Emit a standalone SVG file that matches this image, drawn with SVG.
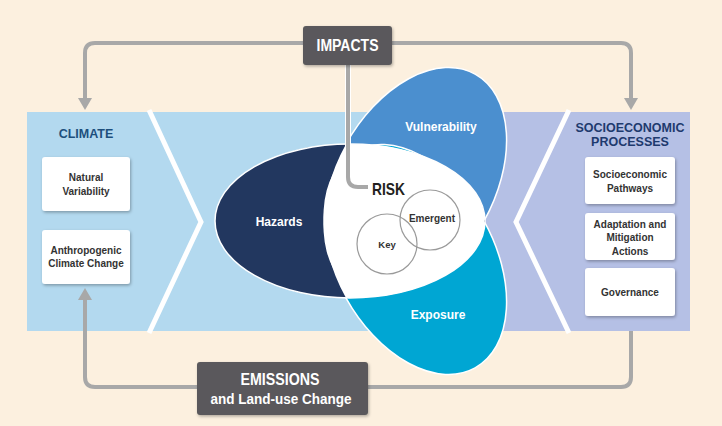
<svg xmlns="http://www.w3.org/2000/svg" width="722" height="426" viewBox="0 0 722 426">
<style>
.t{font-family:"Liberation Sans",Arial,sans-serif;font-weight:bold;text-anchor:middle}
.bx{fill:#ffffff;filter:url(#sh)}
.bt{font-size:10px;fill:#333333}
.et{font-size:12px;fill:#ffffff}
.hd{font-size:12.5px}
.dk{fill:#5a595b;filter:url(#sh)}
.ln{fill:none;stroke:#a8a8a8;stroke-width:4}
.ci{fill:none;stroke:#9a9a9a;stroke-width:1.2}
</style>
<defs>
<filter id="sh" x="-20%" y="-20%" width="140%" height="150%">
<feDropShadow dx="1" dy="1.5" stdDeviation="1.5" flood-color="#000" flood-opacity="0.3"/>
</filter>
<marker id="arr" viewBox="0 0 12 14" markerWidth="12" markerHeight="14" refX="0" refY="7" orient="auto-start-reverse" markerUnits="userSpaceOnUse">
<path d="M0,0 L12,7 L0,14 z" fill="#a8a8a8"/>
</marker>
<clipPath id="hazClip"><ellipse cx="350" cy="221" rx="135" ry="77"/></clipPath>
</defs>
<rect width="722" height="426" fill="#fcf0df"/>
<g id="band">
<rect x="27" y="112" width="458" height="219" fill="#b3d9ef"/>
<rect x="483" y="112" width="207" height="219" fill="#b5c0e5"/>
<polyline points="149,110 201,222 149,333" fill="none" stroke="#ffffff" stroke-width="5"/>
<polyline points="569,110 516,222 569,333" fill="none" stroke="#ffffff" stroke-width="5"/>
</g>
<g id="risk">
<ellipse id="vulnerability" transform="translate(415,182.5) rotate(-61)" rx="124" ry="79" fill="#4b8fcf" stroke="#ffffff" stroke-width="1.5"/>
<ellipse id="exposure" transform="translate(415,259.5) rotate(61)" rx="124" ry="79" fill="#00a6d3" stroke="#ffffff" stroke-width="1.5"/>
<ellipse id="hazards" cx="350" cy="221" rx="135" ry="77" fill="#22375f" stroke="#ffffff" stroke-width="1.5"/>
<g clip-path="url(#hazClip)">
<ellipse transform="translate(415,182.5) rotate(-61)" rx="124" ry="79" fill="#ffffff"/>
<ellipse transform="translate(415,259.5) rotate(61)" rx="124" ry="79" fill="#ffffff"/>
</g>
<circle class="ci" cx="387" cy="244" r="30"/>
<circle class="ci" cx="430" cy="220" r="30"/>
<text class="t et" x="441" y="131">Vulnerability</text>
<text class="t et" x="279" y="226">Hazards</text>
<text class="t et" x="438" y="319">Exposure</text>
<text class="t" x="432" y="222" font-size="10" fill="#333333">Emergent</text>
<text class="t" x="387" y="248" font-size="9.5" fill="#333333">Key</text>
</g>
<g id="connectors">
<path class="ln" d="M85,98 V53 Q85,43 95,43 H621 Q631,43 631,53 V98" marker-start="url(#arr)" marker-end="url(#arr)"/>
<path class="ln" d="M631,331 V377 Q631,387 621,387 H95 Q85,387 85,377 V300" marker-end="url(#arr)"/>
<path d="M348,65 V177 Q348,187 358,187 H368" fill="none" stroke="#ffffff" stroke-width="6"/>
<path class="ln" d="M348,65 V177 Q348,187 358,187 H368"/>
</g>
<text class="t" x="372" y="195" font-size="17" fill="#231f20" style="text-anchor:start" textLength="33" lengthAdjust="spacingAndGlyphs">RISK</text>
<g id="climate">
<text class="t hd" x="86" y="138" fill="#1d4f7c">CLIMATE</text>
</g>
<g id="natural-variability">
<rect class="bx" x="42" y="157" width="88" height="54" rx="3"/>
<text class="t bt" x="86" y="180.5">Natural</text>
<text class="t bt" x="86" y="194.5">Variability</text>
</g>
<g id="anthropogenic">
<rect class="bx" x="42" y="230" width="88" height="54" rx="3"/>
<text class="t bt" x="86" y="253.5">Anthropogenic</text>
<text class="t bt" x="86" y="266.5">Climate Change</text>
</g>
<g id="socioeconomic">
<text class="t hd" x="630" y="132" fill="#1e3a6e">SOCIOECONOMIC</text>
<text class="t hd" x="630" y="146" fill="#1e3a6e">PROCESSES</text>
</g>
<g id="pathways">
<rect class="bx" x="585" y="157" width="90" height="47" rx="3"/>
<text class="t bt" x="630" y="177.5">Socioeconomic</text>
<text class="t bt" x="630" y="191.5">Pathways</text>
</g>
<g id="adaptation">
<rect class="bx" x="585" y="213" width="90" height="47" rx="3"/>
<text class="t bt" x="630" y="227.5">Adaptation and</text>
<text class="t bt" x="630" y="240.5">Mitigation</text>
<text class="t bt" x="630" y="254.5">Actions</text>
</g>
<g id="governance">
<rect class="bx" x="585" y="268" width="90" height="48" rx="3"/>
<text class="t bt" x="630" y="295.5">Governance</text>
</g>
<g id="impacts">
<rect class="dk" x="303" y="26" width="89" height="39" rx="3"/>
<text class="t" x="347.5" y="51" font-size="16" fill="#ffffff" textLength="62" lengthAdjust="spacingAndGlyphs">IMPACTS</text>
</g>
<g id="emissions">
<rect class="dk" x="197" y="362" width="171" height="53" rx="3"/>
<text class="t" x="280" y="385" font-size="16" fill="#ffffff" textLength="79" lengthAdjust="spacingAndGlyphs">EMISSIONS</text>
<text class="t" x="281" y="404" font-size="14" fill="#ffffff" textLength="141" lengthAdjust="spacingAndGlyphs">and Land-use Change</text>
</g>
</svg>
